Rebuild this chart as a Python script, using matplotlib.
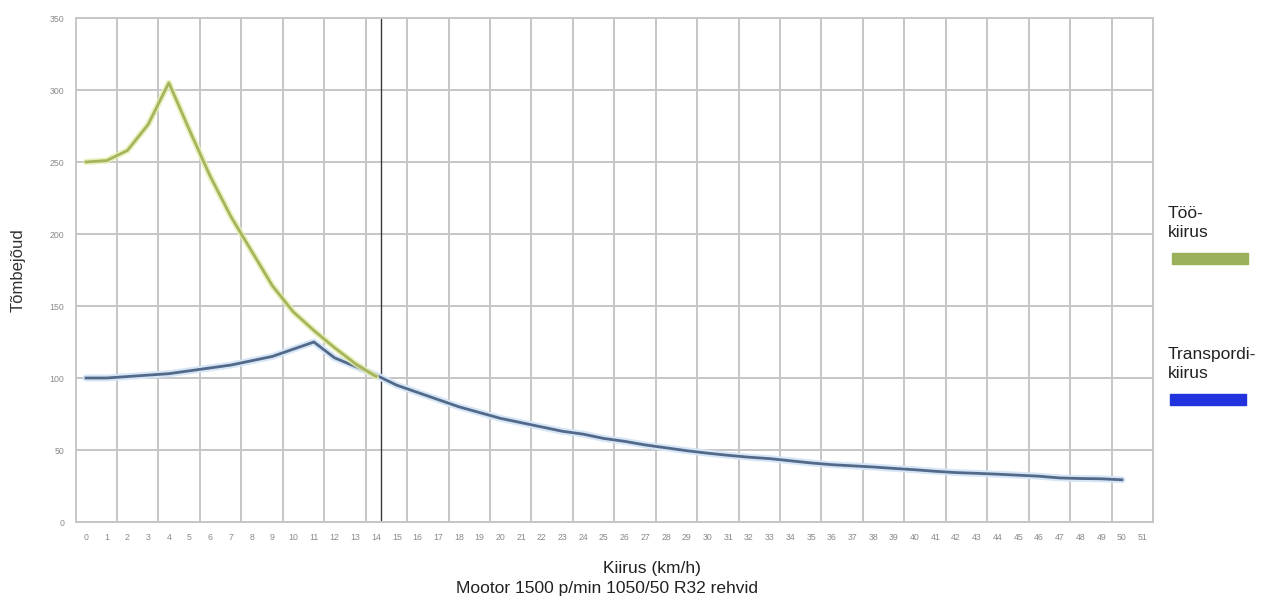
import matplotlib.pyplot as plt
import numpy as np
from matplotlib.patches import Rectangle

plt.rcParams['font.family'] = ['Liberation Sans', 'DejaVu Sans']

# --- data ---
kiirus = np.arange(0, 51)
too_x = np.arange(0, 15)
too_kiirus = [250, 251, 258, 276, 305, 272, 240, 212, 188, 164, 146, 133, 121, 110, 101]
transport_kiirus = [100, 100, 101, 102, 103, 105, 107, 109, 112, 115, 120, 125, 114, 108, 102,
                    95, 90, 85, 80, 76, 72, 69, 66, 63, 61, 58, 56, 53.5, 51.5, 49.5,
                    47.8, 46.3, 45, 44, 42.5, 41, 39.8, 39, 38.2, 37.2, 36.3, 35.2, 34.3,
                    33.8, 33.2, 32.5, 31.8, 30.6, 30.2, 30, 29.3]
x_labels = [str(i) for i in range(0, 52)]
y_ticks = [0, 50, 100, 150, 200, 250, 300, 350]
marker_x = 14.25

fig = plt.figure(figsize=(12.78, 6.0), dpi=100)
ax = fig.add_axes([75.6/1278, 1 - 522/600, (1153 - 75.6)/1278, (522 - 18)/600])

# grid
for y in y_ticks:
    ax.axhline(y, color='#c6c6c6', lw=1.4, zorder=0)
for gx in np.arange(1.5, 51, 2):
    ax.axvline(gx, color='#c6c6c6', lw=1.4, zorder=0)
ax.axvline(marker_x, color='#3a3a3a', lw=1.0, zorder=1)

# lines (soft glow underneath like the original)
ax.plot(kiirus, transport_kiirus, color='#d6e6f6', lw=5, solid_capstyle='round', zorder=2)
ax.plot(kiirus, transport_kiirus, color='#53698a', lw=2.0, zorder=3)
ax.plot(too_x, too_kiirus, color='#e6edb0', lw=4.5, solid_capstyle='round', zorder=4, alpha=0.8)
ax.plot(too_x, too_kiirus, color='#a6b45c', lw=2.0, zorder=5)

ax.set_xlim(-0.5, 51.5)
ax.set_ylim(0, 350)
ax.set_xticks(range(0, 52))
ax.set_xticklabels(x_labels, fontsize=6.3, color='#8a8a8a')
ax.set_yticks(y_ticks)
ax.set_yticklabels([str(v) for v in y_ticks], fontsize=6.3, color='#8a8a8a')
ax.tick_params(length=0, pad=8)
for s in ax.spines.values():
    s.set_color('#c6c6c6')
    s.set_linewidth(1.4)

# axis titles
fig.text(18/1278, 1 - 270/600, 'Tõmbejõud', rotation=90, ha='center', va='center',
         fontsize=12, color='#333333')
fig.text(652/1278, 1 - 568/600, 'Kiirus (km/h)', ha='center', va='center',
         fontsize=12.5, color='#222222')
fig.text(607/1278, 1 - 589/600, 'Mootor 1500 p/min 1050/50 R32 rehvid', ha='center',
         va='center', fontsize=12.5, color='#222222')

# legend on the right
fig.text(1168/1278, 1 - 223/600, 'Töö-\nkiirus', ha='left', va='center',
         fontsize=12.5, color='#222222', linespacing=1.35)
fig.patches.append(Rectangle((1172/1278, 1 - 264/600), 76/1278, 11/600,
                             transform=fig.transFigure, color='#9bb05a'))
fig.text(1168/1278, 1 - 364/600, 'Transpordi-\nkiirus', ha='left', va='center',
         fontsize=12.5, color='#222222', linespacing=1.35)
fig.patches.append(Rectangle((1170/1278, 1 - 405/600), 76/1278, 11/600,
                             transform=fig.transFigure, color='#2233dd'))

fig.savefig('out.png', dpi=100)
